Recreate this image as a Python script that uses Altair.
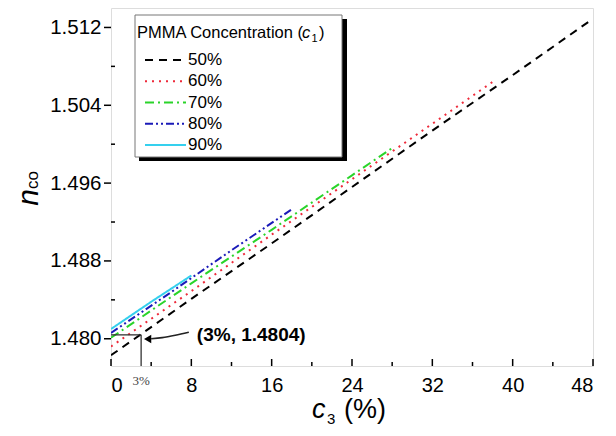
import altair as alt
import pandas as pd

# ---------------- data ----------------
series_names = ["50%", "60%", "70%", "80%", "90%"]
x_50 = [0, 8, 16, 24, 32, 40, 48]
y_50 = [1.4783, 1.4841, 1.4898, 1.4956, 1.5014, 1.5071, 1.5129]
x_60 = [0, 8, 16, 24, 32, 38]
y_60 = [1.4792, 1.4849, 1.4907, 1.4964, 1.5021, 1.5064]
x_70 = [0, 8, 16, 24, 28]
y_70 = [1.4801, 1.4857, 1.4912, 1.4968, 1.4996]
x_80 = [0, 6, 12, 18]
y_80 = [1.4806, 1.4848, 1.4891, 1.4933]
x_90 = [0, 4, 8]
y_90 = [1.4810, 1.4838, 1.4865]

x_ticks = [0, 8, 16, 24, 32, 40, 48]
x_minor = [4, 12, 20, 28, 36, 44]
y_ticks = [1.480, 1.488, 1.496, 1.504, 1.512]
y_minor = [1.484, 1.492, 1.500, 1.508]

ann_x = [3]
ann_y = [1.4804]
ann_label = ["(3%, 1.4804)"]
ann_text_x = [8.55]
arrow_x = [7.75, 6.4, 5.1, 4.0]
arrow_y = [1.48067, 1.48036, 1.48012, 1.48000]
arrow_tip_x = [3.65]
arrow_tip_y = [1.47998]
small_label = ["3%"]

colors = ["#000000", "#ee2a3a", "#2ad42a", "#1a1ab8", "#35d0ee"]
dashes = [[8, 6], [2, 5], [9, 4, 2, 4], [8, 3, 2, 3, 2, 3], [1, 0]]

W, H = 482, 358
FONT = "Liberation Sans"

xs_list = [x_50, x_60, x_70, x_80, x_90]
ys_list = [y_50, y_60, y_70, y_80, y_90]
rows = []
for name, xv, yv in zip(series_names, xs_list, ys_list):
    for a, b in zip(xv, yv):
        rows.append({"series": name, "x": a, "y": b})
df = pd.DataFrame(rows)

xscale = alt.Scale(domain=[0, 48], nice=False, zero=False)
yscale = alt.Scale(domain=[1.4772, 1.5140], nice=False, zero=False)
xaxis = alt.Axis(values=x_ticks, ticks=False, domain=False, grid=False, title=None,
                 labelFontSize=20, labelFont=FONT, labelColor="black", labelPadding=9)
yaxis = alt.Axis(values=y_ticks, ticks=False, domain=False, grid=False, title=None, format=".3f",
                 labelFontSize=20.5, labelFont=FONT, labelColor="black", labelPadding=10)
xenc = alt.X("x:Q", scale=xscale, axis=xaxis)
yenc = alt.Y("y:Q", scale=yscale, axis=yaxis)

lines = alt.Chart(df).mark_line(strokeWidth=2, clip=True).encode(
    x=xenc, y=yenc,
    color=alt.Color("series:N", scale=alt.Scale(domain=series_names, range=colors), legend=None),
    strokeDash=alt.StrokeDash("series:N", scale=alt.Scale(domain=series_names, range=dashes), legend=None),
)

# ticks
xt_major = alt.Chart(pd.DataFrame({"x": x_ticks})).mark_rule(color="black", strokeWidth=1.5).encode(
    x=xenc, y=alt.value(H), y2=alt.value(H - 7))
xt_minor = alt.Chart(pd.DataFrame({"x": x_minor})).mark_rule(color="black", strokeWidth=1.5).encode(
    x=xenc, y=alt.value(H), y2=alt.value(H - 4))
yt_major = alt.Chart(pd.DataFrame({"y": y_ticks})).mark_rule(color="black", strokeWidth=1.5).encode(
    y=yenc, x=alt.value(-7), x2=alt.value(0))
yt_minor = alt.Chart(pd.DataFrame({"y": y_minor})).mark_rule(color="black", strokeWidth=1.5).encode(
    y=yenc, x=alt.value(0), x2=alt.value(4))

# annotation
ann_df = pd.DataFrame({"x": ann_x, "y": ann_y, "x0": [0]})
ann_h = alt.Chart(ann_df).mark_rule(color="#333333", strokeWidth=1.3).encode(
    x=alt.X("x0:Q", scale=xscale, axis=xaxis), x2="x:Q", y=yenc)
ann_v = alt.Chart(ann_df).mark_rule(color="#333333", strokeWidth=1.3).encode(
    x=xenc, y=yenc, y2=alt.value(H))
ann_text = alt.Chart(pd.DataFrame({"x": ann_text_x, "y": ann_y, "t": ann_label})).mark_text(
    align="left", baseline="middle", font=FONT, fontSize=19, fontWeight="bold", color="black").encode(
    x=xenc, y=yenc, text="t:N")
arrow = alt.Chart(pd.DataFrame({"x": arrow_x, "y": arrow_y})).mark_line(
    color="#222222", strokeWidth=1.6, interpolate="monotone").encode(x=xenc, y=yenc)
arrow_head = alt.Chart(pd.DataFrame({"x": arrow_tip_x, "y": arrow_tip_y})).mark_point(
    shape="triangle-left", filled=True, color="black", size=70, opacity=1).encode(x=xenc, y=yenc)
small_txt = alt.Chart(pd.DataFrame({"x": ann_x, "t": small_label})).mark_text(
    font="Liberation Serif", fontSize=13, color="#444444", baseline="middle").encode(
    x=xenc, y=alt.value(H + 15), text="t:N")

# axis titles (rich text pieces)
one = pd.DataFrame({"a": [0]})
def txt(s, x, y, size, style="normal", angle=0, align="left", baseline="alphabetic"):
    return alt.Chart(one).mark_text(text=s, font=FONT, fontSize=size, fontStyle=style, angle=angle,
                                    align=align, baseline=baseline, color="black").encode(
        x=alt.value(x), y=alt.value(y))

titles = [
    txt("n", -73.5, 189.5, 30, "italic", 270, "center"),
    txt("co", -73.5, 172, 17, "normal", 270, "center"),
    txt("c", 201, 410, 27, "italic"),
    txt("3", 216, 416, 15),
    txt("(%)", 233, 410, 27),
]

# legend
legend_layers = [
    alt.Chart(one).mark_rect(color="black").encode(
        x=alt.value(28), x2=alt.value(236), y=alt.value(11), y2=alt.value(153)),
    alt.Chart(one).mark_rect(fill="white", stroke="#777777", strokeWidth=1).encode(
        x=alt.value(24), x2=alt.value(231), y=alt.value(7), y2=alt.value(149)),
    txt("PMMA Concentration (", 26, 30, 16.5),
    txt("c", 191, 30, 16.5, "italic"),
    txt("1", 200.5, 34, 11),
    txt(")", 208, 30, 16.5),
]
for i, (name, col, dash) in enumerate(zip(series_names, colors, dashes)):
    yy = 52 + 21.25 * i
    legend_layers.append(
        alt.Chart(one).mark_rule(strokeWidth=2).encode(
            x=alt.value(34), x2=alt.value(75), y=alt.value(yy),
            color=alt.value(col), strokeDash=alt.value(dash)))
    legend_layers.append(txt(name, 77, yy, 17, baseline="middle"))

chart = alt.layer(
    lines, xt_major, xt_minor, yt_major, yt_minor,
    ann_h, ann_v, arrow, arrow_head, ann_text, small_txt,
    *titles, *legend_layers
).properties(
    width=W, height=H,
    autosize=alt.AutoSizeParams(type="none"),
    padding={"left": 103, "top": 0, "right": 15, "bottom": 62},
).configure_view(stroke="black", strokeWidth=2).configure(background="white")

chart.save("out.html", embed_options={"renderer": "svg", "actions": False})
